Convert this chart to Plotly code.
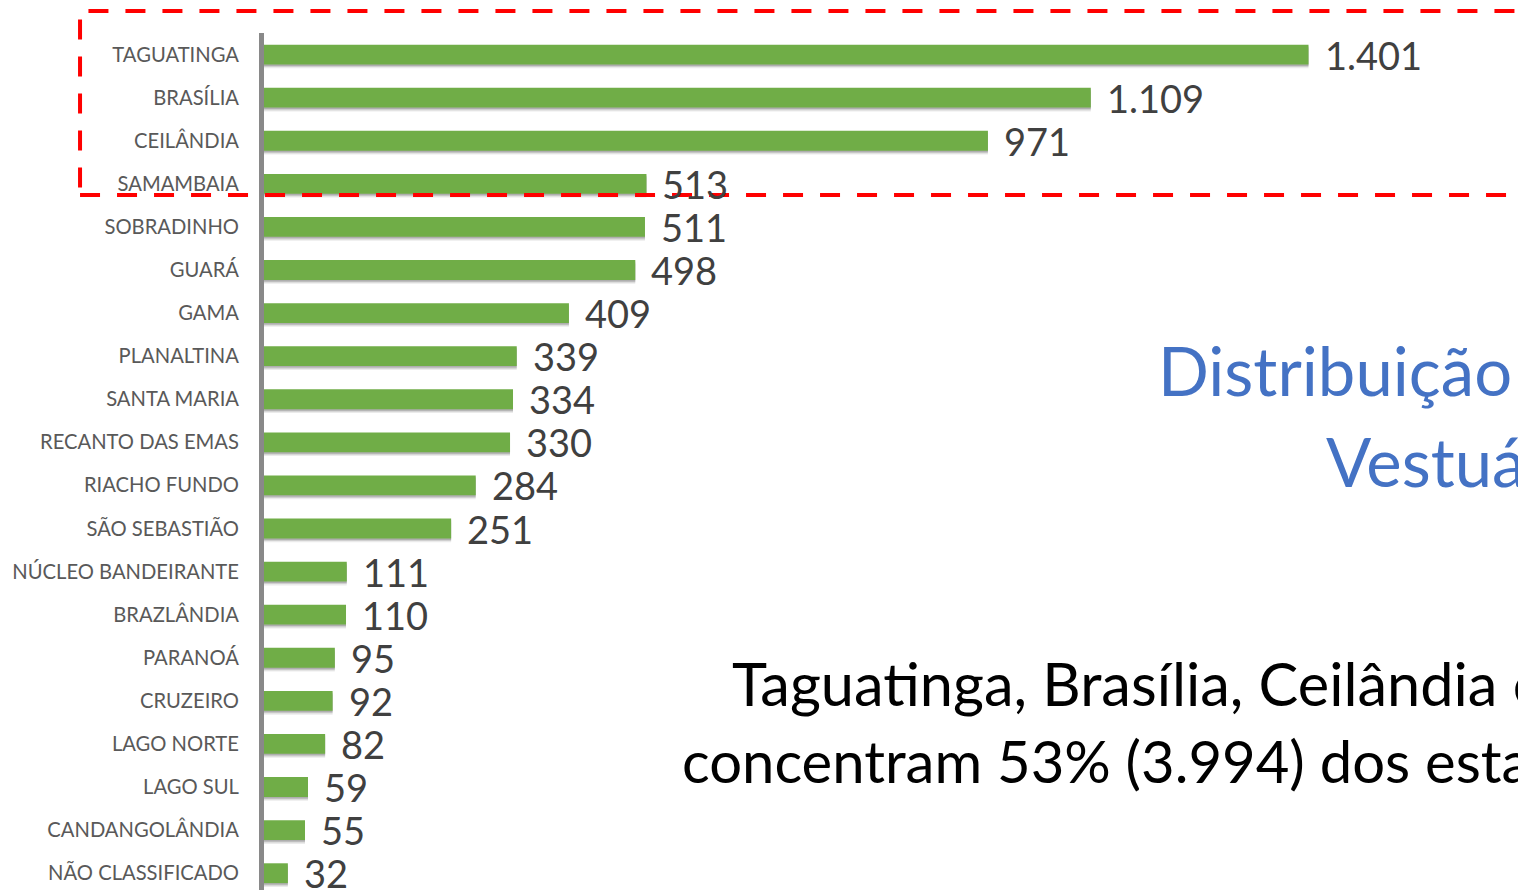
import plotly.graph_objects as go

categories = ["TAGUATINGA", "BRASÍLIA", "CEILÂNDIA", "SAMAMBAIA", "SOBRADINHO", "GUARÁ",
              "GAMA", "PLANALTINA", "SANTA MARIA", "RECANTO DAS EMAS", "RIACHO FUNDO",
              "SÃO SEBASTIÃO", "NÚCLEO BANDEIRANTE", "BRAZLÂNDIA", "PARANOÁ", "CRUZEIRO",
              "LAGO NORTE", "LAGO SUL", "CANDANGOLÂNDIA", "NÃO CLASSIFICADO"]
values = [1401, 1109, 971, 513, 511, 498, 409, 339, 334, 330, 284, 251,
          111, 110, 95, 92, 82, 59, 55, 32]
value_labels = [f"{v:,}".replace(",", ".") for v in values]

title_lines = ["Distribuição", "Vestuário"]
note_lines = ["Taguatinga, Brasília, Ceilândia e", "concentram 53% (3.994) dos estabelecimentos"]

FONT = "Lato"
BAR_W = 0.46

fig = go.Figure()

# soft shadow under bars
for sh, op in [(0.09, 0.10), (0.06, 0.16), (0.035, 0.22)]:
    fig.add_trace(go.Bar(
        x=values, y=categories, orientation="h",
        width=BAR_W, offset=-BAR_W / 2 + sh,
        marker=dict(color=f"rgba(60,60,60,{op})", line=dict(width=0)),
        hoverinfo="skip", showlegend=False,
    ))

fig.add_trace(go.Bar(
    x=values, y=categories, orientation="h",
    width=BAR_W, offset=-BAR_W / 2,
    marker=dict(color="#70AD47", line=dict(width=0)),
    showlegend=False,
))

annotations = []
for c, v, t in zip(categories, values, value_labels):
    annotations.append(dict(
        x=v, y=c, xref="x", yref="y", text=t, showarrow=False,
        xanchor="left", yanchor="middle", xshift=14, yshift=0,
        font=dict(family=FONT, size=38, color="#404040"),
    ))

annotations += [
    dict(x=0.7115, y=0.607, xref="paper", yref="paper", text=title_lines[0],
         showarrow=False, xanchor="left", yanchor="middle",
         font=dict(family=FONT, size=67, color="#4472C4")),
    dict(x=0.8455, y=0.501, xref="paper", yref="paper", text=title_lines[1],
         showarrow=False, xanchor="left", yanchor="middle",
         font=dict(family=FONT, size=67, color="#4472C4")),
    dict(x=0.3715, y=0.2415, xref="paper", yref="paper", text=note_lines[0],
         showarrow=False, xanchor="left", yanchor="middle",
         font=dict(family=FONT, size=59.5, color="#000000")),
    dict(x=0.3315, y=0.151, xref="paper", yref="paper", text=note_lines[1],
         showarrow=False, xanchor="left", yanchor="middle",
         font=dict(family=FONT, size=58, color="#000000")),
]

fig.update_layout(
    width=1518, height=890,
    margin=dict(l=264, r=0, t=33, b=0, pad=0),
    paper_bgcolor="white", plot_bgcolor="white",
    barmode="overlay",
    annotations=annotations,
    shapes=[dict(
        type="rect", xref="paper", yref="paper",
        x0=-0.1467, x1=1.06, y0=0.811, y1=1.0257,
        line=dict(color="#FF0000", width=4, dash="20px,17px"),
        fillcolor="rgba(0,0,0,0)", layer="above",
    )],
)

fig.update_xaxes(range=[0, 1682], visible=False)
fig.update_yaxes(
    type="category", categoryorder="array", categoryarray=categories,
    range=[19.39, -0.5],
    showline=True, linewidth=5, linecolor="#898989",
    showgrid=False, zeroline=False,
    ticks="outside", ticklen=16, tickcolor="rgba(0,0,0,0)",
    tickfont=dict(family=FONT, size=20.2, color="#595959"),
)

fig.write_html(
    "out.html",
    config={"displayModeBar": False},
    post_script="document.body.style.margin='0';document.body.style.padding='0';document.body.style.overflow='hidden';",
)
